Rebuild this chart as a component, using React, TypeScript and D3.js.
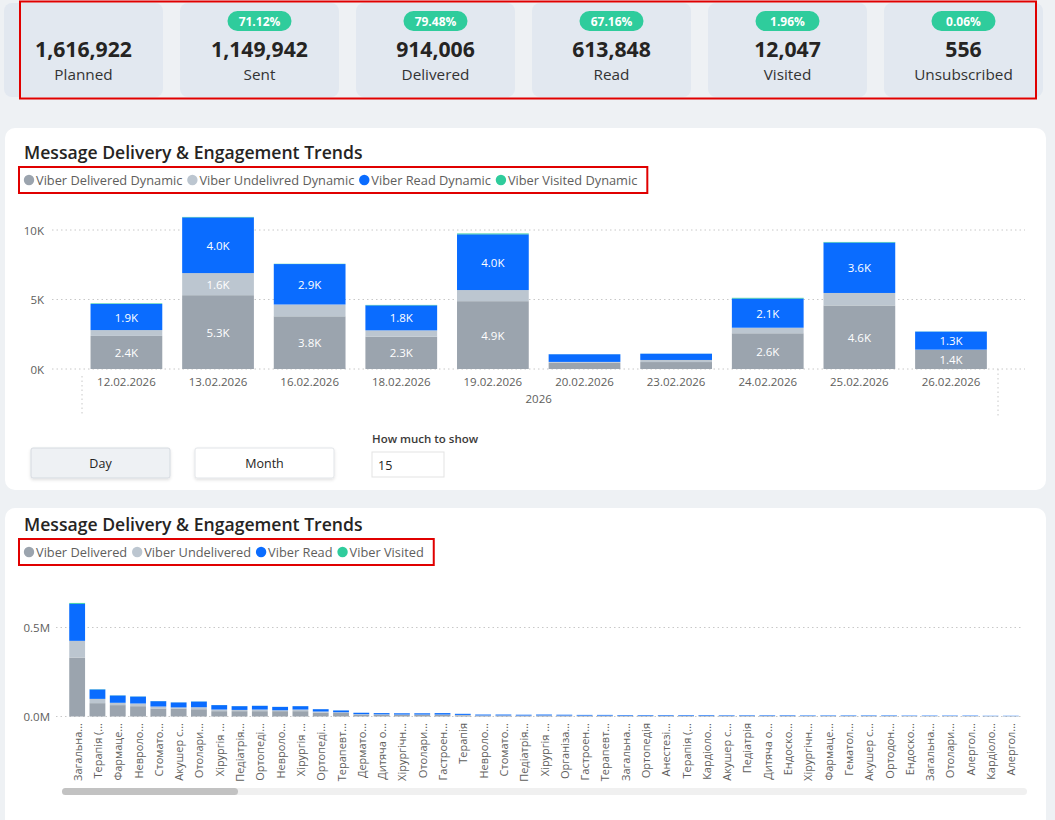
import React, { useEffect, useRef } from "react";
import * as d3 from "d3";

// ---------- KPI data ----------
const kpiLabels = ["Planned", "Sent", "Delivered", "Read", "Visited", "Unsubscribed"];
const kpiValues = [1616922, 1149942, 914006, 613848, 12047, 556];
const kpiRates = ["", "71.12%", "79.48%", "67.16%", "1.96%", "0.06%"];

// ---------- Chart 1 (by day) ----------
const dayCategories = [
  "12.02.2026", "13.02.2026", "16.02.2026", "18.02.2026", "19.02.2026",
  "20.02.2026", "23.02.2026", "24.02.2026", "25.02.2026", "26.02.2026",
];
const dayDelivered = [2380, 5310, 3790, 2330, 4880, 450, 500, 2570, 4570, 1370];
const dayUndelivered = [420, 1590, 850, 450, 800, 60, 150, 400, 900, 20];
const dayRead = [1880, 4010, 2910, 1800, 4010, 550, 450, 2100, 3630, 1300];
const dayVisited = [40, 30, 20, 30, 60, 5, 5, 50, 40, 10];
const dayTicks = [0, 5000, 10000];
const dayYear = "2026";
const dayLegend = [
  "Viber Delivered Dynamic",
  "Viber Undelivred Dynamic",
  "Viber Read Dynamic",
  "Viber Visited Dynamic",
];

// ---------- Chart 2 (by specialty) ----------
const specCategories = [
  "Загальна...", "Терапія (...", "Фармаце...", "Невроло...", "Стомато...", "Акушер с...",
  "Отолари...", "Хірургія ...", "Педіатрія...", "Ортопеді...", "Невроло...", "Хірургія ...",
  "Ортопеді...", "Терапевт...", "Дермато...", "Дитяча о...", "Хірургічн...", "Отолари...",
  "Гастроен...", "Терапія", "Невроло...", "Стомато...", "Педіатрія...", "Хірургія ...",
  "Організа...", "Гастроен...", "Терапевт...", "Загальна...", "Ортопедія", "Анестезі...",
  "Терапія (...", "Кардіоло...", "Акушер с...", "Педіатрія", "Дитяча о...", "Ендоско...",
  "Хірургічн...", "Фармаце...", "Гематол...", "Акушер с...", "Ортодон...", "Ендоско...",
  "Загальна...", "Отолари...", "Алергол...", "Кардіоло...", "Алергол...",
];
const specDelivered = [
  331000, 75000, 64000, 58000, 45000, 45000, 41000, 30000, 30000, 30000, 30000, 30000, 21000, 20000,
  10000, 9000, 9000, 9000, 8500, 7000, 5000, 5000, 4500, 5000, 4500, 4000, 4000, 3500, 3500, 3500,
  3500, 3500, 3000, 3000, 3000, 3000, 2600, 2600, 2600, 2600, 2600, 2200, 2200, 2200, 2200, 1800, 1800,
];
const specUndelivered = [
  94000, 24000, 13000, 15000, 11000, 6000, 11000, 9000, 7000, 9000, 5000, 9000, 7000, 4000,
  3000, 3000, 2000, 2000, 2500, 2000, 1000, 1000, 1000, 1000, 1000, 1000, 1000, 1000, 1000, 1000,
  1000, 1000, 1000, 1000, 1000, 1000, 800, 800, 800, 800, 800, 700, 700, 700, 700, 600, 600,
];
const specRead = [
  208000, 53000, 41000, 39000, 30000, 28000, 32000, 25000, 21000, 21000, 19000, 19000, 13000, 10000,
  8000, 7000, 7000, 7000, 8000, 6000, 5000, 5000, 4500, 5000, 4500, 4000, 4000, 3500, 3500, 3500,
  3500, 3500, 3000, 3000, 3000, 3000, 2600, 2600, 2600, 2600, 2600, 2100, 2100, 2100, 2100, 1600, 1600,
];
const specVisited = [
  5000, 1200, 900, 800, 600, 500, 600, 400, 400, 400, 300, 300, 200, 200,
  100, 100, 100, 100, 100, 100, 80, 80, 80, 80, 80, 70, 70, 70, 70, 70,
  60, 60, 60, 60, 60, 60, 50, 50, 50, 50, 50, 40, 40, 40, 40, 30, 30,
];
const specTicks = [0, 500000];
const specLegend = ["Viber Delivered", "Viber Undelivered", "Viber Read", "Viber Visited"];

const seriesKeys = ["delivered", "undelivered", "read", "visited"];
const seriesColors = ["#9ba4ae", "#bcc6d0", "#0a6cff", "#2fcc9c"];

const FONT = "'Segoe UI', 'Open Sans', sans-serif";
const TEXT_GRAY = "#605e5c";
const DARK = "#252423";

type ChartOpts = {
  title: string;
  titleY: number;
  legend: string[];
  legendY: number;
  categories: string[];
  delivered: number[];
  undelivered: number[];
  read: number[];
  visited: number[];
  xRange: [number, number];
  pad: number;
  y0: number;
  yDomainMax: number;
  yTopPx: number;
  ticks: number[];
  tickFmt: (v: number) => string;
  tickX: number;
  gridX: [number, number];
  showLabels: boolean;
};

function drawChart(svg: any, o: ChartOpts) {
  const g = svg.append("g");
  g.append("text")
    .attr("x", 24)
    .attr("y", o.titleY)
    .attr("font-family", FONT)
    .attr("font-size", 17.6)
    .attr("font-weight", 600)
    .attr("fill", DARK)
    .text(o.title);

  let lx = 24;
  o.legend.forEach((name, i) => {
    g.append("circle").attr("cx", lx + 5).attr("cy", o.legendY).attr("r", 5.2).attr("fill", seriesColors[i]);
    const t = g
      .append("text")
      .attr("x", lx + 12)
      .attr("y", o.legendY)
      .attr("dominant-baseline", "central")
      .attr("font-family", FONT)
      .attr("font-size", 12.8)
      .attr("fill", TEXT_GRAY)
      .text(name);
    const w = (t.node() as SVGTextElement).getComputedTextLength();
    lx = lx + 12 + w + 5;
  });
  g.append("rect")
    .attr("x", 19)
    .attr("y", o.legendY - 13)
    .attr("width", lx + 5 - 19)
    .attr("height", 26)
    .attr("fill", "none")
    .attr("stroke", "#e00000")
    .attr("stroke-width", 2);

  const x = d3
    .scaleBand<string>()
    .domain(o.categories.map((c, i) => String(i)))
    .range(o.xRange)
    .paddingInner(o.pad)
    .paddingOuter(o.pad / 2);
  const y = d3.scaleLinear().domain([0, o.yDomainMax]).range([o.y0, o.yTopPx]);

  o.ticks.forEach((t) => {
    g.append("line")
      .attr("x1", o.gridX[0])
      .attr("x2", o.gridX[1])
      .attr("y1", y(t))
      .attr("y2", y(t))
      .attr("stroke", "#c8c8c8")
      .attr("stroke-width", 1)
      .attr("stroke-dasharray", "1.5,3");
    g.append("text")
      .attr("x", o.tickX)
      .attr("y", y(t))
      .attr("text-anchor", "end")
      .attr("dominant-baseline", "central")
      .attr("font-family", FONT)
      .attr("font-size", 11.5)
      .attr("fill", TEXT_GRAY)
      .text(o.tickFmt(t));
  });

  const rows = o.categories.map((c, i) => ({
    key: String(i),
    delivered: o.delivered[i],
    undelivered: o.undelivered[i],
    read: o.read[i],
    visited: o.visited[i],
  }));
  const stack = d3.stack<any>().keys(seriesKeys)(rows);
  stack.forEach((layer, si) => {
    layer.forEach((d: any) => {
      const x0 = x(d.data.key)!;
      const yTop = y(d[1]);
      const yBot = y(d[0]);
      g.append("rect")
        .attr("x", x0)
        .attr("y", yTop)
        .attr("width", x.bandwidth())
        .attr("height", Math.max(0, yBot - yTop))
        .attr("fill", seriesColors[si]);
      if (o.showLabels && yBot - yTop >= 16) {
        g.append("text")
          .attr("x", x0 + x.bandwidth() / 2)
          .attr("y", (yTop + yBot) / 2)
          .attr("text-anchor", "middle")
          .attr("dominant-baseline", "central")
          .attr("font-family", FONT)
          .attr("font-size", 11.5)
          .attr("fill", "#ffffff")
          .text(d3.format(".1f")((d[1] - d[0]) / 1000) + "K");
      }
    });
  });
  return { x, y, g };
}

export default function App() {
  const ref = useRef<SVGSVGElement>(null);

  useEffect(() => {
    document.body.style.margin = "0";
    const svg = d3.select(ref.current);
    svg.selectAll("*").remove();

    svg.append("rect").attr("width", 1055).attr("height", 820).attr("fill", "#eef1f4");

    // ---------- KPI cards ----------
    const kx = d3.scaleBand<string>().domain(kpiLabels).range([4, 1043]).paddingInner(0.0966);
    kpiLabels.forEach((lab, i) => {
      const x0 = kx(lab)!;
      const cx = x0 + kx.bandwidth() / 2;
      svg.append("rect")
        .attr("x", x0).attr("y", 3).attr("width", kx.bandwidth()).attr("height", 94)
        .attr("rx", 8).attr("fill", "#e2e8f0");
      if (kpiRates[i]) {
        svg.append("rect")
          .attr("x", cx - 32).attr("y", 11).attr("width", 64).attr("height", 20)
          .attr("rx", 10).attr("fill", "#2fcc9c");
        svg.append("text")
          .attr("x", cx).attr("y", 21.5)
          .attr("text-anchor", "middle").attr("dominant-baseline", "central")
          .attr("font-family", FONT).attr("font-size", 12).attr("font-weight", 700)
          .attr("fill", "#ffffff").text(kpiRates[i]);
      }
      svg.append("text")
        .attr("x", cx).attr("y", 48)
        .attr("text-anchor", "middle").attr("dominant-baseline", "central")
        .attr("font-family", FONT).attr("font-size", 21.2).attr("font-weight", 700)
        .attr("fill", DARK).text(d3.format(",")(kpiValues[i]));
      svg.append("text")
        .attr("x", cx).attr("y", 74)
        .attr("text-anchor", "middle").attr("dominant-baseline", "central")
        .attr("font-family", FONT).attr("font-size", 15.3)
        .attr("fill", "#333333").text(lab);
    });
    svg.append("rect")
      .attr("x", 20).attr("y", 1.5).attr("width", 1016).attr("height", 97)
      .attr("fill", "none").attr("stroke", "#e00000").attr("stroke-width", 2);

    // ---------- panels ----------
    svg.append("rect").attr("x", 5).attr("y", 128).attr("width", 1041).attr("height", 362)
      .attr("rx", 10).attr("fill", "#ffffff");
    svg.append("rect").attr("x", 5).attr("y", 508).attr("width", 1041).attr("height", 340)
      .attr("rx", 10).attr("fill", "#ffffff");

    // ---------- chart 1 ----------
    const c1 = drawChart(svg, {
      title: "Message Delivery & Engagement Trends",
      titleY: 159,
      legend: dayLegend,
      legendY: 180,
      categories: dayCategories,
      delivered: dayDelivered,
      undelivered: dayUndelivered,
      read: dayRead,
      visited: dayVisited,
      xRange: [80.6, 996.8],
      pad: 0.217,
      y0: 369,
      yDomainMax: 10000,
      yTopPx: 230,
      ticks: dayTicks,
      tickFmt: (v) => d3.format(".0f")(v / 1000) + "K",
      tickX: 44,
      gridX: [52, 1025],
      showLabels: true,
    });
    dayCategories.forEach((c, i) => {
      c1.g.append("text")
        .attr("x", c1.x(String(i))! + c1.x.bandwidth() / 2)
        .attr("y", 381)
        .attr("text-anchor", "middle").attr("dominant-baseline", "central")
        .attr("font-family", FONT).attr("font-size", 11.5)
        .attr("fill", TEXT_GRAY).text(c);
    });
    c1.g.append("text")
      .attr("x", (80.6 + 996.8) / 2).attr("y", 398)
      .attr("text-anchor", "middle").attr("dominant-baseline", "central")
      .attr("font-family", FONT).attr("font-size", 11.5)
      .attr("fill", TEXT_GRAY).text(dayYear);
    [[82, 376, 416], [998, 369, 418]].forEach(([lx, a, b]) => {
      c1.g.append("line").attr("x1", lx).attr("x2", lx).attr("y1", a).attr("y2", b)
        .attr("stroke", "#c8c8c8").attr("stroke-dasharray", "1.5,3");
    });

    // controls
    const btns = [
      { label: "Day", x: 31, fill: "#eef1f4", stroke: "#d5dae0" },
      { label: "Month", x: 195, fill: "#ffffff", stroke: "#e1e4e8" },
    ];
    const defs = svg.append("defs");
    const f = defs.append("filter").attr("id", "sh").attr("x", "-10%").attr("y", "-20%")
      .attr("width", "120%").attr("height", "160%");
    f.append("feDropShadow").attr("dx", 0).attr("dy", 1.5).attr("stdDeviation", 1.5)
      .attr("flood-color", "#000").attr("flood-opacity", 0.12);
    btns.forEach((b) => {
      svg.append("rect").attr("x", b.x).attr("y", 448).attr("width", 139).attr("height", 30)
        .attr("rx", 2).attr("fill", b.fill).attr("stroke", b.stroke).attr("filter", "url(#sh)");
      svg.append("text").attr("x", b.x + 69.5).attr("y", 463)
        .attr("text-anchor", "middle").attr("dominant-baseline", "central")
        .attr("font-family", FONT).attr("font-size", 12.5).attr("fill", DARK).text(b.label);
    });
    svg.append("text").attr("x", 372).attr("y", 438).attr("dominant-baseline", "central")
      .attr("font-family", FONT).attr("font-size", 11.5).attr("font-weight", 600)
      .attr("fill", "#3b3a39").text("How much to show");
    svg.append("rect").attr("x", 372).attr("y", 452).attr("width", 72).attr("height", 25)
      .attr("fill", "#ffffff").attr("stroke", "#e3e3e3");
    svg.append("text").attr("x", 378).attr("y", 465).attr("dominant-baseline", "central")
      .attr("font-family", FONT).attr("font-size", 12.5).attr("fill", DARK).text("15");

    // ---------- chart 2 ----------
    const c2 = drawChart(svg, {
      title: "Message Delivery & Engagement Trends",
      titleY: 531,
      legend: specLegend,
      legendY: 552,
      categories: specCategories,
      delivered: specDelivered,
      undelivered: specUndelivered,
      read: specRead,
      visited: specVisited,
      xRange: [67, 1021],
      pad: 0.22,
      y0: 716.5,
      yDomainMax: 500000,
      yTopPx: 627.5,
      ticks: specTicks,
      tickFmt: (v) => d3.format(".1f")(v / 1e6) + "M",
      tickX: 50,
      gridX: [56, 1022],
      showLabels: false,
    });
    specCategories.forEach((c, i) => {
      const cx = c2.x(String(i))! + c2.x.bandwidth() / 2;
      c2.g.append("text")
        .attr("transform", `translate(${cx},723) rotate(-90)`)
        .attr("text-anchor", "end").attr("dominant-baseline", "central")
        .attr("font-family", FONT).attr("font-size", 11)
        .attr("fill", TEXT_GRAY).text(c);
    });
    svg.append("rect").attr("x", 62).attr("y", 788).attr("width", 965).attr("height", 7)
      .attr("rx", 3.5).attr("fill", "#f0f0f0");
    svg.append("rect").attr("x", 62).attr("y", 788).attr("width", 176).attr("height", 7)
      .attr("rx", 3.5).attr("fill", "#c2c2c2");
  }, []);

  return (
    <svg
      ref={ref}
      width={1055}
      height={820}
      style={{ position: "absolute", left: 0, top: 0, display: "block" }}
    />
  );
}
